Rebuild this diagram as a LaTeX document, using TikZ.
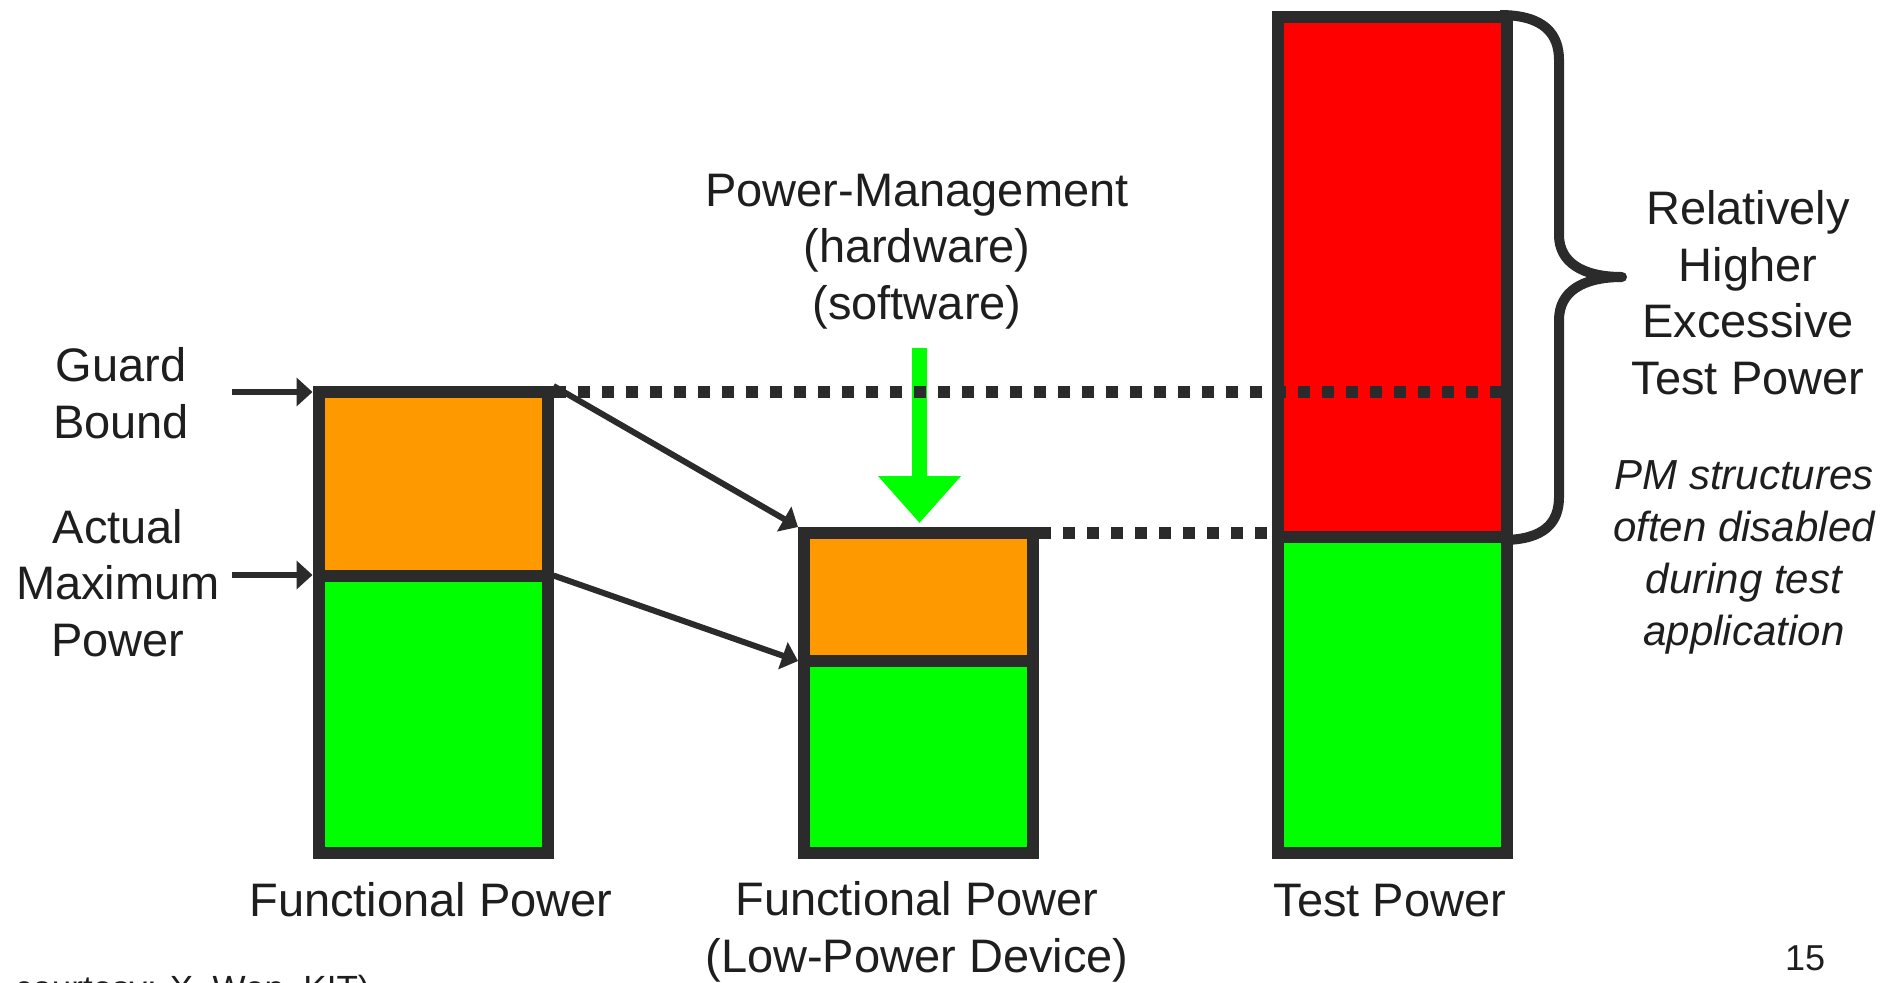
\documentclass[tikz,border=0pt]{standalone}
\usepackage{fontspec}
\setmainfont{Liberation Sans}
\usetikzlibrary{arrows.meta,calc}
\definecolor{edge}{HTML}{2B2B2B}
\definecolor{ink}{HTML}{1E1E1E}
\definecolor{orng}{HTML}{FF9900}
\definecolor{grn}{HTML}{00FF00}
\definecolor{rd}{HTML}{FF0000}
\begin{document}
\begin{tikzpicture}[x=0.5pt,y=-0.5pt,
  seg/.style={draw=edge, line width=6pt, inner sep=0pt, anchor=north west, minimum width=114.5pt},
  lbl/.style={text=ink, font=\fontsize{23.5}{28.25}\selectfont, align=center, inner sep=0pt, anchor=base},
  note/.style={text=ink, font=\fontsize{21}{25.85}\selectfont\itshape, align=center, inner sep=0pt, anchor=base},
  pointer/.style={draw=edge, line width=3pt, -{Triangle[length=8pt,width=14pt]}},
  dots/.style={draw=edge, line width=6pt, dash pattern=on 6pt off 6pt},
]
\useasboundingbox (0,0) rectangle (1899,982);

% power-management arrow
\coordinate (pm) at (919.5,348);

% bars
\node[seg, fill=orng, minimum height=91.75pt] (b1top) at (312.5,386) {};
\node[seg, fill=grn, minimum height=138.75pt] (b1bot) at (312.5,569.5) {};
\node[seg, fill=orng, minimum height=64pt] (b2top) at (798,527) {};
\node[seg, fill=grn, minimum height=96pt] (b2bot) at (798,655) {};
\draw[edge, line width=5pt, line join=round]
  (1500,15) .. controls (1545,15) and (1559,35) .. (1559,60) -- (1559,235)
  .. controls (1559,262) and (1582,277) .. (1622,277)
  .. controls (1582,277) and (1559,292) .. (1559,320) -- (1559,497)
  .. controls (1559,522) and (1545,540) .. (1502,540);
\node[seg, fill=rd, minimum height=260pt] (b3top) at (1272,11) {};
\node[seg, fill=grn, minimum height=158pt] (b3bot) at (1272,531) {};

\draw[draw=grn, line width=7.5pt, -{Triangle[length=23.5pt,width=40pt]}, shorten >=2pt]
  (pm) -- (pm |- b2top.north);

% dotted levels
\coordinate (u0) at ([yshift=-3pt]b1top.north east);
\draw[dots] (u0) -- (u0 -| b3top.east);
\coordinate (l0) at ([yshift=-3pt]b2top.north east);
\draw[dots] (l0) -- (l0 -| b3top.west);

% pointers
\coordinate (gtail) at (232,392);
\coordinate (atail) at (232,575);
\draw[pointer] (gtail) -- (gtail -| b1top.west);
\draw[pointer] (atail) -- (atail -| b1bot.west);
\draw[pointer] (b1top.north east) -- (b2top.north west);
\draw[pointer] ($(b1top.south east)!.5!(b1bot.north east)$) -- ($(b2top.south west)!.5!(b2bot.north west)$);

% texts (anchor = baseline of the last line)
\node[lbl] (guard) at (121,438) {Guard\\Bound};
\node[lbl] (actual) at (118,656) {Actual\\Maximum\\Power};
\node[lbl] (pmlbl) at (917,319) {Power-Management\\(hardware)\\(software)};
\node[lbl] (excess) at (1748,394) {Relatively\\Higher\\Excessive\\Test Power};
\node[note] (pmnote) at (1744,645) {PM structures\\often disabled\\during test\\application};
\node[lbl] (fp) at (431,916) {Functional Power};
\node[lbl] (fplp) at (917,972) {Functional Power\\(Low-Power Device)};
\node[lbl] (tp) at (1390,916) {Test Power};
\node[text=ink, font=\fontsize{18}{21}\selectfont, anchor=base, inner sep=0pt] (pg) at (1805,970) {15};
\node[text=ink, font=\fontsize{17.5}{21}\selectfont, anchor=base east, inner sep=0pt] (court) at (370,1000) {courtesy: X. Wen, KIT)};
\end{tikzpicture}
\end{document}
